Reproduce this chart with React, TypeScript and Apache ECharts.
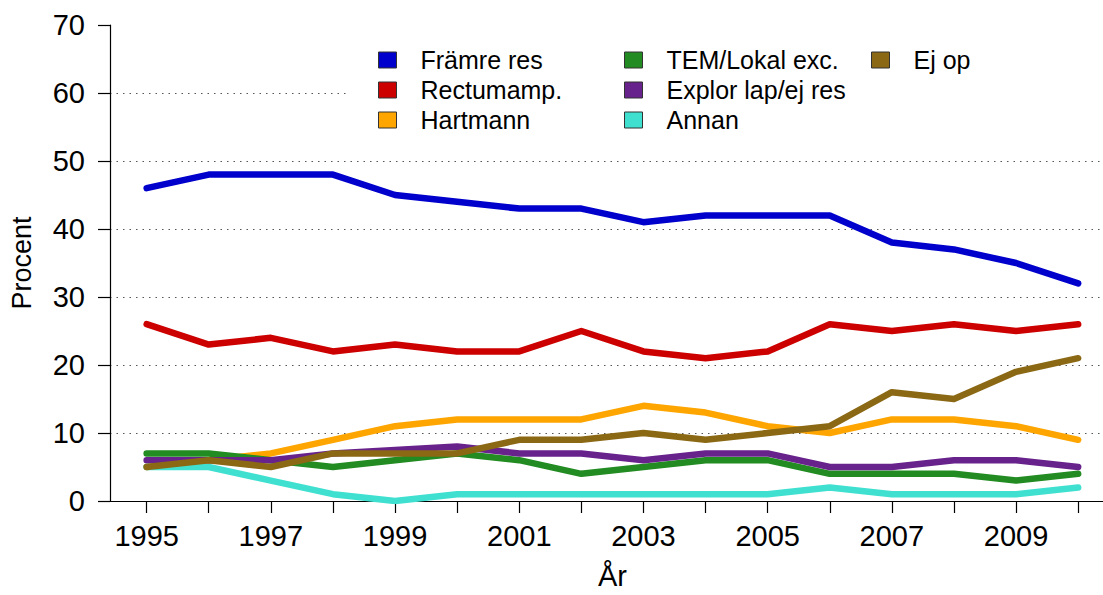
import React, { useEffect, useRef } from "react";
import * as echarts from "echarts";

const years = [1995, 1996, 1997, 1998, 1999, 2000, 2001, 2002, 2003, 2004, 2005, 2006, 2007, 2008, 2009, 2010];
const yearLabels = [1995, 1997, 1999, 2001, 2003, 2005, 2007, 2009];
const framre = [46, 48, 48, 48, 45, 44, 43, 43, 41, 42, 42, 42, 38, 37, 35, 32];
const rectum = [26, 23, 24, 22, 23, 22, 22, 25, 22, 21, 22, 26, 25, 26, 25, 26];
const hartmann = [5, 6, 7, 9, 11, 12, 12, 12, 14, 13, 11, 10, 12, 12, 11, 9];
const tem = [7, 7, 6, 5, 6, 7, 6, 4, 5, 6, 6, 4, 4, 4, 3, 4];
const explor = [6, 6, 6, 7, 7.5, 8, 7, 7, 6, 7, 7, 5, 5, 6, 6, 5];
const annan = [5, 5, 3, 1, 0, 1, 1, 1, 1, 1, 1, 2, 1, 1, 1, 2];
const ejop = [5, 6, 5, 7, 7, 7, 9, 9, 10, 9, 10, 11, 16, 15, 19, 21];

const seriesNames = ["Främre res", "Rectumamp.", "Hartmann", "TEM/Lokal exc.", "Explor lap/ej res", "Annan", "Ej op"];
const seriesValues = [framre, rectum, hartmann, tem, explor, annan, ejop];
const seriesColors = ["#0000CD", "#CD0000", "#FFA500", "#228B22", "#68228B", "#40E0D0", "#8B6914"];

const FONT = "'Liberation Sans', Arial, Helvetica, sans-serif";

export default function App() {
  const ref = useRef<HTMLDivElement>(null);
  useEffect(() => {
    if (!ref.current) return;
    const chart = echarts.init(ref.current, null, { renderer: "svg" });
    const legendCol = (names: string[], left: number) => ({
      data: names,
      orient: "vertical",
      left,
      top: 47.5,
      padding: 0,
      itemWidth: 18,
      itemHeight: 16,
      itemGap: 5,
      icon: "rect",
      z: 10,
      selectedMode: false,
      itemStyle: { borderColor: "#333", borderWidth: 1 },
      textStyle: { fontSize: 25, lineHeight: 25, color: "#000", fontFamily: FONT, padding: [0, 0, 0, 19] },
    });
    chart.setOption({
      animation: false,
      textStyle: { fontFamily: FONT },
      grid: { left: 107, right: 0, top: 25, bottom: 91, containLabel: false },
      graphic: [
        { type: "rect", left: 350, top: 30, z: 1, shape: { width: 753, height: 110 }, style: { fill: "#fff" } },
      ],
      legend: [
        legendCol(seriesNames.slice(0, 3), 378),
        legendCol(seriesNames.slice(3, 6), 624),
        legendCol(seriesNames.slice(6), 871),
      ],
      xAxis: {
        type: "value",
        min: years[0] - 0.59,
        max: years[years.length - 1] + 0.4,
        name: "År",
        nameLocation: "middle",
        nameGap: 60,
        nameTextStyle: { fontSize: 29, color: "#000", fontFamily: FONT, padding: [0, 0, 0, 12] },
        axisLine: { show: true, lineStyle: { color: "#000", width: 1.2 } },
        axisTick: { show: true, length: 12, customValues: years, lineStyle: { color: "#000", width: 1.2 } },
        axisLabel: {
          customValues: yearLabels,
          formatter: (v: number) => String(v),
          fontSize: 29,
          color: "#000",
          margin: 20,
          fontFamily: FONT,
        },
        splitLine: { show: false },
      },
      yAxis: {
        type: "value",
        min: 0,
        max: 70,
        interval: 10,
        name: "Procent",
        nameLocation: "middle",
        nameGap: 75,
        nameTextStyle: { fontSize: 27, color: "#000", fontFamily: FONT },
        axisLine: { show: true, lineStyle: { color: "#000", width: 1.2 } },
        axisTick: { show: true, length: 12, lineStyle: { color: "#000", width: 1.2 } },
        axisLabel: { fontSize: 29, color: "#000", margin: 25, fontFamily: FONT },
        splitLine: {
          show: true,
          showMinLine: false,
          showMaxLine: false,
          lineStyle: { color: "#555", width: 1, type: [1.5, 5] },
        },
      },
      series: seriesNames.map((name, i) => ({
        name,
        type: "line",
        data: years.map((y, j) => [y, seriesValues[i][j]]),
        showSymbol: false,
        symbol: "none",
        color: seriesColors[i],
        lineStyle: { width: 6.5, color: seriesColors[i], cap: "round", join: "round" },
        z: 2,
      })),
    });
    return () => chart.dispose();
  }, []);
  return (
    <div
      ref={ref}
      style={{ position: "fixed", left: 0, top: 0, width: 1103, height: 595, background: "#fff" }}
    />
  );
}
